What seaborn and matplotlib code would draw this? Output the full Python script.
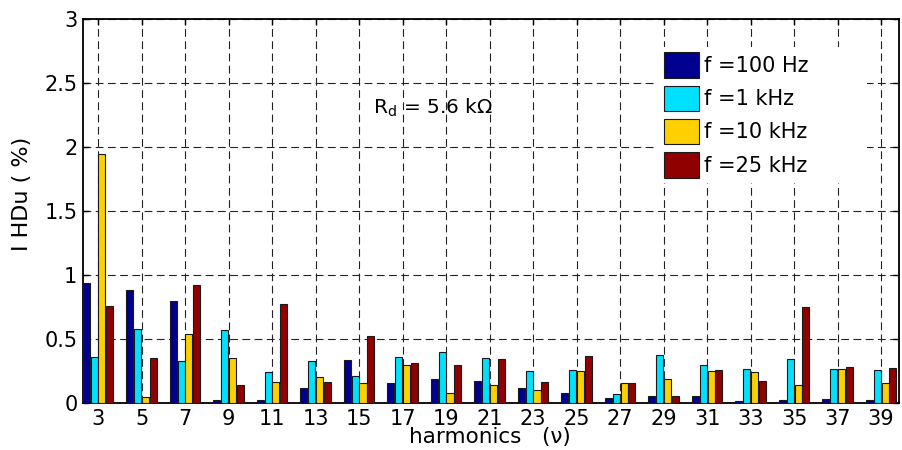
import numpy as np
import pandas as pd
import matplotlib
matplotlib.use("Agg")
import matplotlib.pyplot as plt
from matplotlib.patches import Rectangle
import seaborn as sns

# Harmonic orders and IHDu values (%) for each supply frequency
harmonics = [3, 5, 7, 9, 11, 13, 15, 17, 19, 21, 23, 25, 27, 29, 31, 33, 35, 37, 39]
f_100Hz = [0.935, 0.88, 0.795, 0.02, 0.02, 0.117, 0.333, 0.16, 0.188, 0.17,
           0.117, 0.076, 0.036, 0.055, 0.055, 0.013, 0.023, 0.029, 0.021]
f_1kHz = [0.357, 0.58, 0.33, 0.568, 0.24, 0.325, 0.213, 0.36, 0.40, 0.35,
          0.25, 0.26, 0.068, 0.378, 0.30, 0.263, 0.346, 0.265, 0.26]
f_10kHz = [1.943, 0.05, 0.537, 0.352, 0.164, 0.20, 0.16, 0.30, 0.078, 0.138,
           0.099, 0.247, 0.156, 0.188, 0.247, 0.242, 0.14, 0.263, 0.154]
f_25kHz = [0.76, 0.35, 0.92, 0.14, 0.773, 0.164, 0.523, 0.31, 0.294, 0.344,
           0.164, 0.367, 0.154, 0.057, 0.255, 0.17, 0.747, 0.284, 0.273]

series_labels = ["f =100 Hz", "f =1 kHz", "f =10 kHz", "f =25 kHz"]
series_colors = ["#00008F", "#00E1FF", "#FFD000", "#900000"]
y_ticks = [0, 0.5, 1, 1.5, 2, 2.5, 3]
y_tick_labels = ["0", "0.5", "1", "1.5", "2", "2.5", "3"]

rows = []
for label, values in zip(series_labels, [f_100Hz, f_1kHz, f_10kHz, f_25kHz]):
    for h, v in zip(harmonics, values):
        rows.append({"harmonic": str(h), "IHDu": v, "freq": label})
df = pd.DataFrame(rows)

sns.set_theme(style="white")
plt.rcParams["font.family"] = ["DejaVu Sans"]
plt.rcParams["text.color"] = "black"
plt.rcParams["axes.labelcolor"] = "black"
plt.rcParams["xtick.color"] = "black"
plt.rcParams["ytick.color"] = "black"

fig = plt.figure(figsize=(9.03, 4.5), dpi=100)
ax = fig.add_axes([0.0919, 0.1044, 0.9037, 0.8534])

sns.barplot(data=df, x="harmonic", y="IHDu", hue="freq",
            order=[str(h) for h in harmonics], hue_order=series_labels,
            palette=series_colors, width=0.72, gap=0.1,
            edgecolor="#1a1a1a", linewidth=0.8, saturation=1,
            legend=True, ax=ax, zorder=3)

ax.set_xlim(-0.345, 18.41)
ax.set_ylim(0, 3)
ax.set_yticks(y_ticks)
ax.set_yticklabels(y_tick_labels)

ax.grid(True, color="#222222", linestyle=(0, (7, 4)), linewidth=0.8, zorder=0)
ax.set_axisbelow(True)

for side in ["left", "right", "top", "bottom"]:
    ax.spines[side].set_visible(True)
    ax.spines[side].set_color("black")
    ax.spines[side].set_linewidth(1.3)

ax.tick_params(axis="both", direction="in", length=4, width=1, colors="black",
               labelsize=15, top=True, right=True, bottom=True, left=True)
ax.tick_params(axis="x", pad=4)
ax.tick_params(axis="y", pad=4)

ax.set_xlabel("harmonics   (\u03bd)", fontsize=15.5)
ax.xaxis.set_label_coords(0.499, -0.062)
ax.set_ylabel("I HDu ( %)", fontsize=16)
ax.yaxis.set_label_coords(-0.062, 0.544)

ax.text(0.355, 0.768, r"R$_\mathregular{d}$ = 5.6 k$\Omega$", transform=ax.transAxes,
        fontsize=14.5, ha="left", va="center")

# White backdrop behind the legend entries
ax.add_patch(Rectangle((0.705, 0.573), 0.256, 0.354, transform=ax.transAxes,
                       facecolor="white", edgecolor="none", zorder=1))

leg = ax.legend(loc="upper left", bbox_to_anchor=(0.705, 0.927), frameon=False,
                fontsize=15, handlelength=1.68, handleheight=1.5,
                labelspacing=0.38, handletextpad=0.25, borderpad=0.25,
                borderaxespad=0)
for p in leg.get_patches():
    p.set_edgecolor("#1a1a1a")
    p.set_linewidth(0.8)

fig.savefig("out.png", dpi=100)
